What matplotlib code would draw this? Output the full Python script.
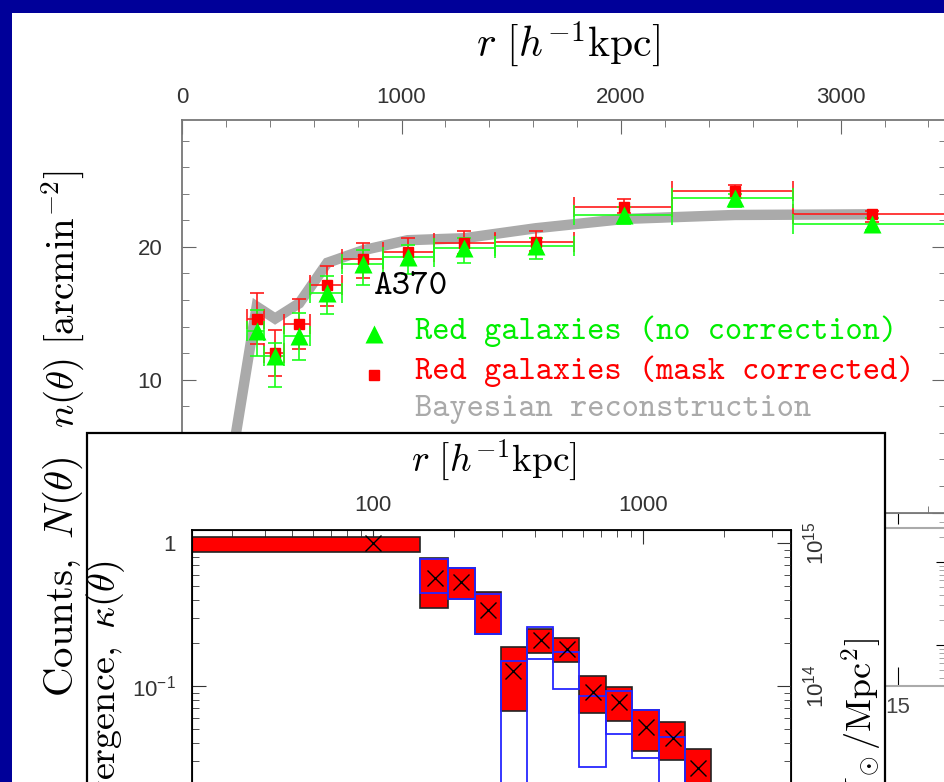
import os
import numpy as np
import matplotlib
matplotlib.use('Agg')
import matplotlib.pyplot as plt
from matplotlib.patches import Rectangle
from matplotlib.lines import Line2D
from matplotlib.font_manager import FontProperties
from matplotlib.ticker import MultipleLocator, FixedLocator, FuncFormatter, LogLocator, NullFormatter

# ---- radial number density of red galaxies (main panel) ----
r_edges = [298, 372, 466, 582, 730, 914, 1146, 1425, 1786, 2230, 2785, 3480]
r_mid = [340, 424, 534, 662, 826, 1028, 1285, 1611, 2014, 2519, 3145]

n_raw = [13.7, 11.8, 13.3, 16.5, 18.7, 19.25, 19.9, 20.1, 22.4, 23.65, 21.7]
n_raw_hi = [15.28, 12.76, 15.05, 17.79, 19.75, 20.15, 20.63, 20.63, 23.0, 23.95, 22.14]
n_raw_lo = [11.76, 9.44, 11.46, 14.92, 17.11, 17.94, 18.82, 19.12, 21.71, 22.97, 21.26]

n_mask = [14.6, 12.0, 14.2, 17.1, 19.05, 19.6, 20.3, 20.4, 23.0, 24.2, 22.45]
n_mask_hi = [16.49, 13.77, 16.06, 18.57, 20.30, 20.68, 21.18, 21.2, 23.62, 24.65, 22.71]
n_mask_lo = [12.66, 10.25, 12.29, 15.55, 17.66, 18.62, 19.45, 19.7, 22.52, 23.65, 21.89]

r_bayes = [187, 340, 424, 534, 662, 826, 1028, 1285, 1611, 2014, 2519, 3145]
n_bayes = [0.0, 15.5, 14.6, 15.75, 18.8, 19.75, 20.5, 20.65, 21.4, 22.1, 22.4, 22.45]

# ---- convergence profile (inset) ----
k_edges = [10, 150, 190, 238, 298, 372, 466, 582, 730, 914, 1146, 1425, 1786]
r_kappa = [100, 170, 212, 266, 331, 418, 523, 651, 817, 1026, 1288, 1594]
kappa = [0.995, 0.572, 0.536, 0.340, 0.128, 0.210, 0.181, 0.0912, 0.0777, 0.0514, 0.0431, 0.0266]
kappa_hi = [1.107, 0.789, 0.665, 0.456, 0.188, 0.249, 0.218, 0.1175, 0.098, 0.0679, 0.0563, 0.0362]
kappa_lo = [0.869, 0.349, 0.406, 0.231, 0.0672, 0.171, 0.1465, 0.0650, 0.0569, 0.0351, 0.0304, 0.018]
kappa2_hi = [np.nan, 0.769, 0.665, 0.440, 0.150, 0.260, 0.172, 0.0855, 0.0927, 0.0679, 0.0438, np.nan]
kappa2_lo = [np.nan, 0.449, 0.406, 0.231, 0.001, 0.155, 0.0953, 0.0270, 0.0462, 0.0314, 0.001, np.nan]

# ---- counts panel behind ----
count_level = 257

W, H = 945, 782


def fbox(x0, y0, x1, y1):
    return [x0 / W, 1 - y1 / H, (x1 - x0) / W, (y1 - y0) / H]


def fx(x):
    return x / W


def fy(y):
    return 1 - y / H


plt.rcParams['mathtext.fontset'] = 'cm'
plt.rcParams['font.family'] = ['Liberation Sans', 'DejaVu Sans']

tt_path = os.path.join(matplotlib.get_data_path(), 'fonts', 'ttf', 'cmtt10.ttf')


def ttf(size):
    if os.path.exists(tt_path):
        p = FontProperties(fname=tt_path)
    else:
        p = FontProperties(family='DejaVu Sans Mono')
    p.set_size(size)
    return p


tick_col = '#333333'
fig = plt.figure(figsize=(9.45, 7.82), dpi=100, facecolor='#000099')
fig.add_artist(Rectangle((fx(12), 0), 1 - fx(12), fy(13), transform=fig.transFigure,
                         facecolor='white', edgecolor='none', zorder=-1))

# counts panel (mostly hidden)
ax3 = fig.add_axes(fbox(600, 513, 946, 686), zorder=0)
ax3.set_xlim(0, 17.41)
ax3.set_yscale('log')
ax3.set_ylim(3.21, 389)
ax3.axhline(count_level, color='#aaaaaa', lw=1.5)
for s in ax3.spines.values():
    s.set_color('#aaaaaa')
    s.set_linewidth(1.5)
ax3.xaxis.set_major_locator(FixedLocator([15]))
ax3.xaxis.set_minor_locator(FixedLocator([]))
ax3.tick_params(axis='x', which='major', bottom=True, top=False, direction='in', length=14,
                color='black', labelsize=16, labelcolor='#444444', pad=8)
ax3.yaxis.tick_right()
ax3.tick_params(axis='y', which='major', direction='in', length=7, color='black', labelright=False)
ax3.tick_params(axis='y', which='minor', direction='in', length=5, color='#999999')
sec = ax3.secondary_xaxis('top')
sec.set_xticks([15])
sec.tick_params(direction='inout', length=16, color='black', labeltop=False)
sec.spines['top'].set_visible(False)

# main panel
ax1 = fig.add_axes(fbox(182, 120, 946, 512.5), zorder=1)
ax1.set_xlim(0, 3480)
ax1.set_ylim(0, 29.55)
ax1.plot(r_bayes, n_bayes, color='#aaaaaa', lw=7.5, solid_joinstyle='miter', zorder=1)

r_mid_a = np.array(r_mid)
xerr = [r_mid_a - np.array(r_edges[:-1]), np.array(r_edges[1:]) - r_mid_a]
for vals, hi, lo, col in [(n_mask, n_mask_hi, n_mask_lo, '#ff1a1a'),
                          (n_raw, n_raw_hi, n_raw_lo, '#1aff1a')]:
    v = np.array(vals)
    ax1.errorbar(r_mid, vals, xerr=xerr, fmt='none', ecolor=col, elinewidth=1.2,
                 capsize=7, capthick=1.2, zorder=2)
    ax1.errorbar(r_mid, vals, yerr=[v - np.array(lo), np.array(hi) - v], fmt='none',
                 ecolor=col, elinewidth=1.2, capsize=5, capthick=1.2, zorder=2)
ax1.plot(r_mid, n_mask, 's', color='#ff0000', ms=7, zorder=3)
ax1.plot(r_mid, n_raw, '^', color='#00ff00', ms=13, mec='none', zorder=4)

for s in ax1.spines.values():
    s.set_color('#777777')
    s.set_linewidth(1.3)
ax1.xaxis.set_major_locator(MultipleLocator(1000))
ax1.xaxis.set_minor_locator(MultipleLocator(200))
ax1.yaxis.set_major_locator(MultipleLocator(10))
ax1.yaxis.set_minor_locator(MultipleLocator(2))
ax1.tick_params(axis='both', which='both', direction='in', top=True, bottom=True,
                left=True, right=True, labeltop=True, labelbottom=False, color='#666666')
ax1.tick_params(axis='both', which='major', length=10, labelsize=16, labelcolor=tick_col)
ax1.tick_params(axis='both', which='minor', length=5)
ax1.tick_params(axis='x', which='major', pad=9)
ax1.tick_params(axis='y', which='major', pad=14)

# legend of main panel
fig.text(fx(374), fy(287), 'A370', fontproperties=ttf(25.5), color='black', ha='left', va='center')
fig.add_artist(Line2D([fx(374)], [fy(334)], marker='^', color='#00ff00', ms=13, mec='none',
                      transform=fig.transFigure))
fig.add_artist(Line2D([fx(374)], [fy(375)], marker='s', color='#ff0000', ms=7,
                      transform=fig.transFigure))
fig.add_artist(Rectangle((fx(362), fy(419)), fx(393) - fx(362), fy(402) - fy(419),
                         transform=fig.transFigure, facecolor='#aaaaaa', edgecolor='none'))
fig.text(fx(415), fy(331), 'Red galaxies (no correction)', fontproperties=ttf(23.6),
         color='#00ee00', ha='left', va='center')
fig.text(fx(415), fy(371), 'Red galaxies (mask corrected)', fontproperties=ttf(23.6),
         color='#ff0000', ha='left', va='center')
fig.text(fx(415), fy(410), 'Bayesian reconstruction', fontproperties=ttf(23.6),
         color='#aaaaaa', ha='left', va='center')

fig.text(fx(568), fy(44), r'$r\ [h^{-1}\mathrm{kpc}]$', ha='center', va='center', fontsize=30)
fig.text(fx(63), fy(299), r'$n(\theta)\ [\mathrm{arcmin}^{-2}]$', rotation=90,
         ha='center', va='center', fontsize=28)
fig.text(fx(63), fy(697), r'$\mathrm{Counts,}\ N(\theta)$', rotation=90,
         ha='center', va='bottom', fontsize=29.5)

# inset: convergence profile
fig.add_artist(Rectangle((fx(87), fy(795)), fx(885) - fx(87), fy(433) - fy(795),
                         transform=fig.transFigure, facecolor='white', edgecolor='black',
                         lw=1.6, zorder=2))
ax2 = fig.add_axes(fbox(192, 530, 791, 829), zorder=3)
ax2.set_xscale('log')
ax2.set_yscale('log')
ax2.set_xlim(21.4, 3532)
ax2.set_ylim(0.01, 1.233)

left = np.array(k_edges[:-1], dtype=float)
width = np.array(k_edges[1:], dtype=float) - left
lo = np.array(kappa_lo)
hi = np.array(kappa_hi)
ax2.bar(left, hi - lo, width=width, bottom=lo, align='edge', color='#ff0000',
        edgecolor='#222222', lw=1.2, zorder=2)
lo2 = np.array(kappa2_lo)
hi2 = np.array(kappa2_hi)
ok = ~np.isnan(lo2)
ax2.bar(left[ok], (hi2 - lo2)[ok], width=width[ok], bottom=lo2[ok], align='edge',
        fill=False, edgecolor='#2626ff', lw=1.3, zorder=3)
ax2.plot(r_kappa, kappa, 'x', color='black', ms=11, mew=1.0, zorder=4)

for s in ax2.spines.values():
    s.set_color('black')
    s.set_linewidth(1.3)
ax2.xaxis.set_major_locator(FixedLocator([10, 100, 1000]))
ax2.xaxis.set_minor_locator(LogLocator(base=10, subs=np.arange(2, 10), numticks=20))
ax2.xaxis.set_major_formatter(FuncFormatter(lambda v, p: '%d' % v))
ax2.xaxis.set_minor_formatter(NullFormatter())
ax2.yaxis.set_major_locator(FixedLocator([0.1, 1]))
ax2.yaxis.set_minor_locator(LogLocator(base=10, subs=np.arange(2, 10), numticks=20))
ax2.yaxis.set_major_formatter(FuncFormatter(
    lambda v, p: '1' if v >= 1 else r'$\mathregular{10^{%d}}$' % round(np.log10(v))))
ax2.yaxis.set_minor_formatter(NullFormatter())
ax2.tick_params(axis='both', which='both', direction='in', top=True, bottom=False,
                left=True, right=False, labeltop=True, labelbottom=False, color='#333333')
ax2.tick_params(axis='both', which='major', length=10, labelsize=16, labelcolor=tick_col)
ax2.tick_params(axis='both', which='minor', length=5)
ax2.tick_params(axis='x', which='major', pad=10)
ax2.tick_params(axis='y', which='major', pad=12)

ax2r = ax2.twinx()
ax2r.set_yscale('log')
ax2r.set_ylim(1e13, 1.233e15)
ax2r.yaxis.set_major_locator(FixedLocator([1e14, 1e15]))
ax2r.yaxis.set_minor_locator(LogLocator(base=10, subs=np.arange(2, 10), numticks=20))
ax2r.yaxis.set_major_formatter(FuncFormatter(
    lambda v, p: r'$\mathregular{10^{%d}}$' % round(np.log10(v))))
ax2r.yaxis.set_minor_formatter(NullFormatter())
ax2r.tick_params(axis='y', which='both', direction='in', color='#333333')
ax2r.tick_params(axis='y', which='major', length=10, labelsize=16, labelcolor=tick_col,
                 labelrotation=90, pad=8)
ax2r.tick_params(axis='y', which='minor', length=5)
for t in ax2r.yaxis.get_major_ticks():
    t.label2.set_va('center')

fig.text(fx(494), fy(460), r'$r\ [h^{-1}\mathrm{kpc}]$', ha='center', va='center',
         fontsize=27, zorder=5)
fig.text(fx(106), fy(561), r'$\mathrm{Convergence,}\ \kappa(\theta)$', rotation=90,
         ha='center', va='top', fontsize=27.5, zorder=5)
fig.text(fx(862), fy(638), r'$\Sigma\ [M_\odot/\mathrm{Mpc}^2]$', rotation=90,
         ha='center', va='top', fontsize=26, zorder=5)

fig.savefig('out.png', dpi=100, facecolor=fig.get_facecolor())
